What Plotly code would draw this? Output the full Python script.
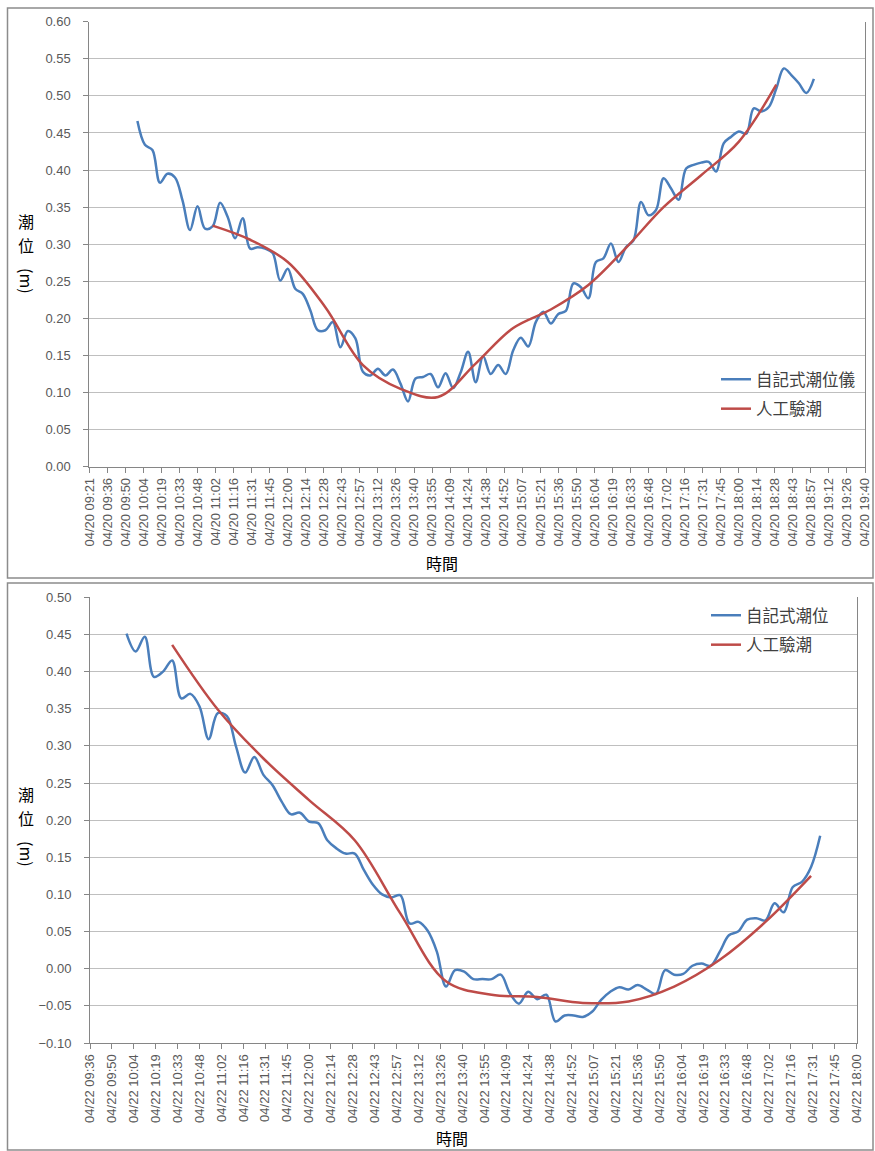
import pandas as pd
import plotly.graph_objects as go

# 04/20 自記式潮位儀 (every 6 min, 10:00 - 19:00)
top_blue = [0.466, 0.434, 0.427, 0.383, 0.395, 0.390, 0.359, 0.319, 0.351, 0.321,
            0.324, 0.356, 0.337, 0.308, 0.335, 0.294, 0.296, 0.294, 0.288, 0.251,
            0.267, 0.240, 0.233, 0.211, 0.184, 0.184, 0.195, 0.161, 0.183, 0.173,
            0.128, 0.123, 0.132, 0.123, 0.131, 0.112, 0.088, 0.119, 0.121, 0.125,
            0.107, 0.126, 0.106, 0.127, 0.155, 0.114, 0.149, 0.125, 0.137, 0.125,
            0.157, 0.174, 0.162, 0.195, 0.209, 0.193, 0.206, 0.210, 0.247, 0.242,
            0.227, 0.276, 0.281, 0.301, 0.276, 0.296, 0.305, 0.357, 0.339, 0.346,
            0.389, 0.375, 0.360, 0.402, 0.407, 0.410, 0.411, 0.398, 0.436, 0.445,
            0.452, 0.449, 0.483, 0.479, 0.485, 0.510, 0.537, 0.528, 0.517, 0.504,
            0.523]
# 04/20 人工驗潮 (every 30 min, 11:00 - 18:30)
top_red = [0.325, 0.306, 0.276, 0.215, 0.137, 0.105, 0.094, 0.139, 0.187, 0.212,
           0.245, 0.295, 0.350, 0.393, 0.438, 0.515]

# 04/22 自記式潮位 (every 6 min, 10:00 - 17:36)
bot_blue = [0.451, 0.427, 0.447, 0.393, 0.400, 0.415, 0.364, 0.370, 0.353, 0.309,
            0.344, 0.340, 0.299, 0.264, 0.285, 0.261, 0.247, 0.225, 0.208, 0.210,
            0.198, 0.196, 0.173, 0.162, 0.155, 0.155, 0.133, 0.113, 0.100, 0.096,
            0.099, 0.061, 0.063, 0.051, 0.023, -0.024, -0.002, -0.004, -0.014, -0.014,
            -0.014, -0.008, -0.033, -0.047, -0.031, -0.041, -0.035, -0.071, -0.063, -0.063,
            -0.065, -0.058, -0.042, -0.031, -0.025, -0.028, -0.022, -0.028, -0.034, -0.002,
            -0.008, -0.007, 0.004, 0.007, 0.004, 0.023, 0.045, 0.050, 0.066, 0.068,
            0.065, 0.088, 0.076, 0.110, 0.117, 0.137, 0.179]
# 04/22 人工驗潮 (every 30 min, 10:30 - 17:30)
bot_red = [0.436, 0.349, 0.283, 0.227, 0.173, 0.0745, -0.017, -0.035, -0.038, -0.046,
           -0.044, -0.024, 0.012, 0.063, 0.125]

top_tick_labels = ["09:21", "09:36", "09:50", "10:04", "10:19", "10:33", "10:48", "11:02",
                   "11:16", "11:31", "11:45", "12:00", "12:14", "12:28", "12:43", "12:57",
                   "13:12", "13:26", "13:40", "13:55", "14:09", "14:24", "14:38", "14:52",
                   "15:07", "15:21", "15:36", "15:50", "16:04", "16:19", "16:33", "16:48",
                   "17:02", "17:16", "17:31", "17:45", "18:00", "18:14", "18:28", "18:43",
                   "18:57", "19:12", "19:26", "19:40"]
bot_tick_labels = ["09:36", "09:50", "10:04", "10:19", "10:33", "10:48", "11:02", "11:16",
                   "11:31", "11:45", "12:00", "12:14", "12:28", "12:43", "12:57", "13:12",
                   "13:26", "13:40", "13:55", "14:09", "14:24", "14:38", "14:52", "15:07",
                   "15:21", "15:36", "15:50", "16:04", "16:19", "16:33", "16:48", "17:02",
                   "17:16", "17:31", "17:45", "18:00"]

day20 = pd.Timestamp("2013-04-20")
day22 = pd.Timestamp("2013-04-22")
t_top_blue = pd.date_range(day20 + pd.Timedelta("10:00:00"), periods=len(top_blue), freq="6min")
t_top_red = pd.date_range(day20 + pd.Timedelta("11:00:00"), periods=len(top_red), freq="30min")
t_bot_blue = pd.date_range(day22 + pd.Timedelta("10:00:00"), periods=len(bot_blue), freq="6min")
t_bot_red = pd.date_range(day22 + pd.Timedelta("10:30:00"), periods=len(bot_red), freq="30min")

# excel time axis: major unit 0.01 day
top_ticks = [day20 + pd.Timedelta(days=(39 + i) / 100) for i in range(len(top_tick_labels))]
bot_ticks = [day22 + pd.Timedelta(days=(40 + i) / 100) for i in range(len(bot_tick_labels))]

W, H = 875, 1151
BLUE = "#4A7EBB"
RED = "#BE4B48"
GRID = "#BFBFBF"
AXIS = "#868686"
TXT = "#595959"
CJK = "Noto Sans CJK TC"


def px(x):
    return x / W


def py(y):
    return 1 - y / H


fig = go.Figure()
fig.add_trace(go.Scatter(x=t_top_blue, y=top_blue, name="自記式潮位儀", mode="lines",
                         line=dict(color=BLUE, width=2.5, shape="spline"),
                         xaxis="x", yaxis="y", legend="legend", legendgroup="a"))
fig.add_trace(go.Scatter(x=t_top_red, y=top_red, name="人工驗潮", mode="lines",
                         line=dict(color=RED, width=2.5, shape="spline"),
                         xaxis="x", yaxis="y", legend="legend", legendgroup="b"))
fig.add_trace(go.Scatter(x=t_bot_blue, y=bot_blue, name="自記式潮位", mode="lines",
                         line=dict(color=BLUE, width=2.5, shape="spline"),
                         xaxis="x2", yaxis="y2", legend="legend2", legendgroup="c"))
fig.add_trace(go.Scatter(x=t_bot_red, y=bot_red, name="人工驗潮", mode="lines",
                         line=dict(color=RED, width=2.5, shape="spline"),
                         xaxis="x2", yaxis="y2", legend="legend2", legendgroup="d"))

xcommon = dict(type="date", tickangle=-90, ticks="outside", ticklen=5, tickcolor=AXIS,
               showline=True, linecolor=AXIS, linewidth=1, showgrid=False, automargin=False,
               tickfont=dict(family="Liberation Sans", size=13, color=TXT))
ycommon = dict(dtick=0.05, tickformat=".2f", ticks="outside", ticklen=5, tickcolor=AXIS,
               showline=True, linecolor=AXIS, linewidth=1, mirror=True, showgrid=True,
               gridcolor=GRID, gridwidth=1, zeroline=False, ticklabelstandoff=10,
               automargin=False, tickfont=dict(family="Liberation Sans", size=13, color=TXT))
lcommon = dict(xanchor="left", yanchor="top", bgcolor="rgba(0,0,0,0)", tracegroupgap=5,
               itemwidth=30, font=dict(family=CJK, size=16.5, color="#404040"))

fig.update_layout(
    width=W, height=H, margin=dict(l=0, r=0, t=0, b=0, autoexpand=False),
    paper_bgcolor="white", plot_bgcolor="white", showlegend=True,
    xaxis=dict(xcommon, domain=[px(89.3), px(865)], anchor="y",
               range=[top_ticks[0], top_ticks[-1]], tickvals=top_ticks,
               ticktext=["04/20 " + s for s in top_tick_labels]),
    yaxis=dict(ycommon, domain=[py(466.7), py(21.7)], anchor="x", range=[0, 0.6]),
    xaxis2=dict(xcommon, domain=[px(90), px(856.7)], anchor="y2",
                range=[bot_ticks[0], bot_ticks[-1]], tickvals=bot_ticks,
                ticktext=["04/22 " + s for s in bot_tick_labels]),
    yaxis2=dict(ycommon, domain=[py(1043), py(597.3)], anchor="x2", range=[-0.1, 0.5]),
    legend=dict(lcommon, x=px(716), y=py(362)),
    legend2=dict(lcommon, x=px(706), y=py(598)),
)

# chart frames
for y0, y1 in [(8, 578), (583, 1150)]:
    fig.add_shape(type="rect", xref="paper", yref="paper", x0=px(7.5), x1=px(873),
                  y0=py(y1), y1=py(y0), line=dict(color="#8C8C8C", width=1.5))


def label(x, y, text, **kw):
    fig.add_annotation(x=px(x), y=py(y), xref="paper", yref="paper", showarrow=False,
                       xanchor="center", yanchor="middle", text=text,
                       font=dict(family=CJK, size=16, color="black"), **kw)


# axis titles (stacked vertical text as in excel)
for y_chao, xt, yt in [(221, 442, 563), (794, 452, 1138)]:
    label(26, y_chao, "潮")
    label(26, y_chao + 24, "位")
    label(27, y_chao + 60, "(m)", textangle=90)
    label(xt, yt, "時間")

# page body has an 8px default margin; drop it so the figure sits at the corner
fig.write_html("out.html", config={"displayModeBar": False},
               post_script="document.body.style.margin = '0px';")
